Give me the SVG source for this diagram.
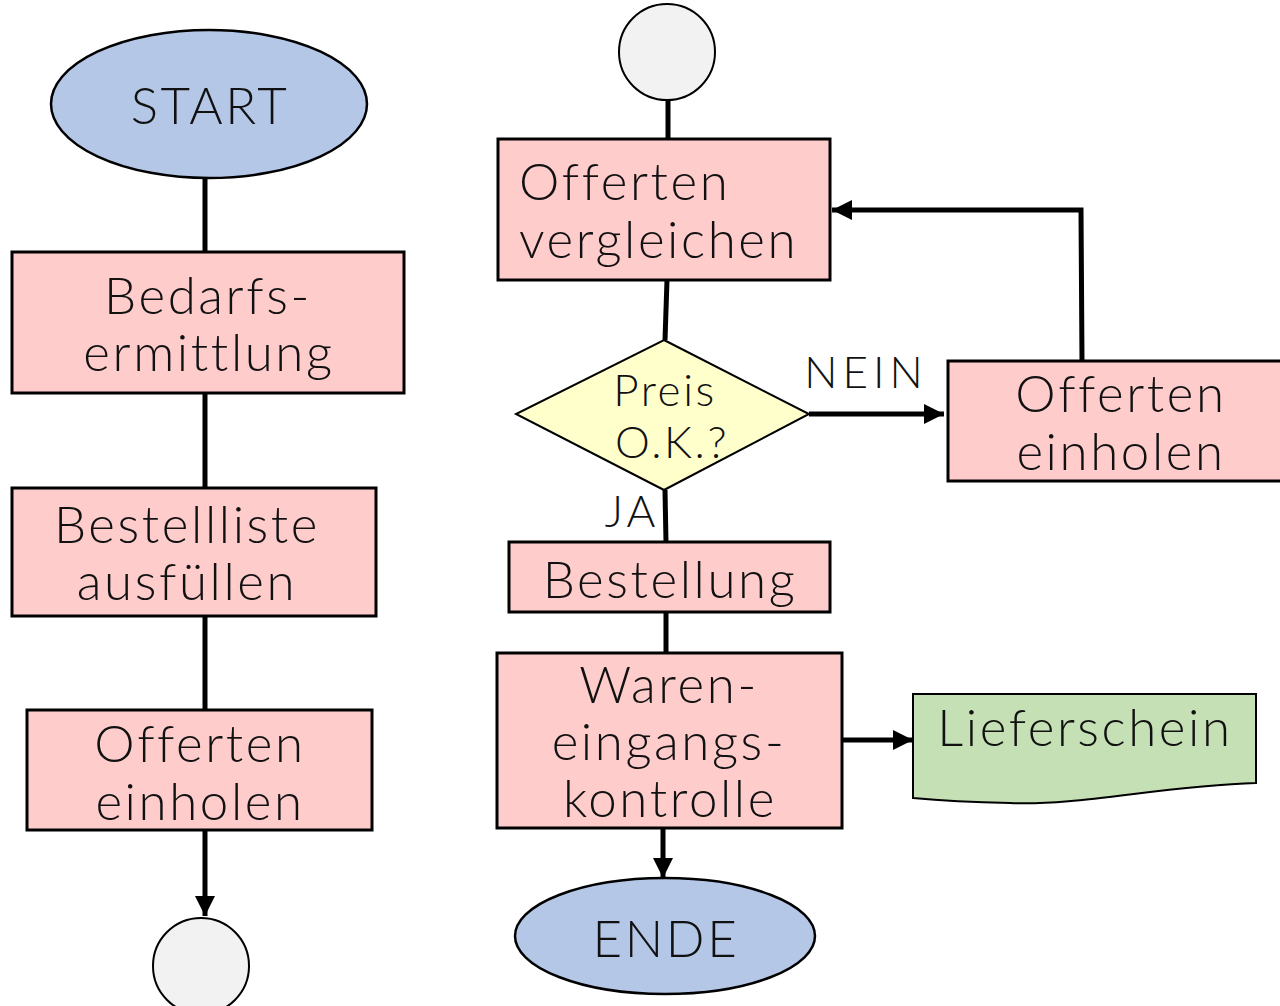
<svg xmlns="http://www.w3.org/2000/svg" width="1280" height="1006" viewBox="0 0 1280 1006">
  <style>
    .box { fill: #FFCCCC; stroke: #000; stroke-width: 3; }
    .term { fill: #B4C7E7; stroke: #000; stroke-width: 2.5; }
    .conn { fill: #F2F2F2; stroke: #000; stroke-width: 2; }
    .dec { fill: #FFFFCC; stroke: #000; stroke-width: 2; }
    .doc { fill: #C5E0B4; stroke: #000; stroke-width: 2; }
    .line { fill: none; stroke: #000; stroke-width: 5; }
    text { font-family: "Lato", "Liberation Sans", sans-serif; font-weight: 300; fill: #111; font-size: 51px; letter-spacing: 2.6px; }
    .c { text-anchor: middle; }
    .s { font-size: 44px; letter-spacing: 2.6px; }
  </style>
  <defs>
    <marker id="arrow" viewBox="0 0 10 10" refX="10" refY="5" markerWidth="4" markerHeight="4" orient="auto" markerUnits="strokeWidth">
      <path d="M0,0 L10,5 L0,10 Z" fill="#000"/>
    </marker>
  </defs>

  <!-- connectors -->
  <g id="connectors">
    <line class="line" x1="205" y1="178" x2="205" y2="252"/>
    <line class="line" x1="205" y1="393" x2="205" y2="488"/>
    <line class="line" x1="205" y1="616" x2="205" y2="710"/>
    <line class="line" x1="205" y1="830" x2="205" y2="916" marker-end="url(#arrow)"/>
    <line class="line" x1="668" y1="100" x2="668" y2="139"/>
    <line class="line" x1="667" y1="280" x2="665" y2="340"/>
    <line class="line" x1="809" y1="414" x2="944" y2="414" marker-end="url(#arrow)"/>
    <polyline class="line" points="1082,361 1081,210 832,210" marker-end="url(#arrow)"/>
    <line class="line" x1="665" y1="490" x2="666" y2="542"/>
    <line class="line" x1="666" y1="612" x2="666" y2="653"/>
    <line class="line" x1="842" y1="740" x2="913" y2="740" marker-end="url(#arrow)"/>
    <line class="line" x1="663" y1="828" x2="663" y2="878" marker-end="url(#arrow)"/>
    <text x="866" y="388" class="c s" style="letter-spacing:5px">NEIN</text>
    <text x="632" y="527" class="c s" style="letter-spacing:4px">JA</text>
  </g>

  <!-- left column -->
  <g id="start">
    <ellipse class="term" cx="209" cy="104" rx="158" ry="74"/>
    <text x="210" y="124" class="c">START</text>
  </g>
  <g id="bedarfsermittlung">
    <rect class="box" x="12" y="252" width="392" height="141"/>
    <text x="208" y="314" class="c">Bedarfs-</text>
    <text x="209" y="371" class="c">ermittlung</text>
  </g>
  <g id="bestellliste">
    <rect class="box" x="12" y="488" width="364" height="128"/>
    <text x="187" y="543" class="c">Bestellliste</text>
    <text x="187" y="600" class="c">ausfüllen</text>
  </g>
  <g id="offerten-einholen-1">
    <rect class="box" x="27" y="710" width="345" height="120"/>
    <text x="200" y="762" class="c">Offerten</text>
    <text x="200" y="820" class="c">einholen</text>
  </g>
  <g id="connector-out">
    <circle class="conn" cx="201" cy="966" r="48"/>
  </g>

  <!-- right column -->
  <g id="connector-in">
    <circle class="conn" cx="667" cy="52" r="48"/>
  </g>
  <g id="offerten-vergleichen">
    <rect class="box" x="498" y="139" width="332" height="141"/>
    <text x="519" y="200">Offerten</text>
    <text x="519" y="258">vergleichen</text>
  </g>
  <g id="preis-ok">
    <polygon class="dec" points="664,340 809,414 664,490 516,414"/>
    <text x="665" y="406" class="c s">Preis</text>
    <text x="672" y="458" class="c s">O.K.?</text>
  </g>
  <g id="offerten-einholen-2">
    <rect class="box" x="948" y="361" width="340" height="120"/>
    <text x="1121" y="412" class="c">Offerten</text>
    <text x="1121" y="470" class="c">einholen</text>
  </g>
  <g id="bestellung">
    <rect class="box" x="509" y="542" width="321" height="70"/>
    <text x="670" y="598" class="c">Bestellung</text>
  </g>
  <g id="wareneingangskontrolle">
    <rect class="box" x="497" y="653" width="345" height="175"/>
    <text x="669" y="703" class="c">Waren-</text>
    <text x="669" y="760" class="c">eingangs-</text>
    <text x="670" y="817" class="c">kontrolle</text>
  </g>
  <g id="lieferschein">
    <path class="doc" d="M913,694 H1256 V783 C1160,786 1080,806 1010,803 C965,802 935,800 913,798 Z"/>
    <text x="1085" y="746" class="c">Lieferschein</text>
  </g>
  <g id="ende">
    <ellipse class="term" cx="665" cy="936" rx="150" ry="58"/>
    <text x="666" y="957" class="c">ENDE</text>
  </g>
</svg>
